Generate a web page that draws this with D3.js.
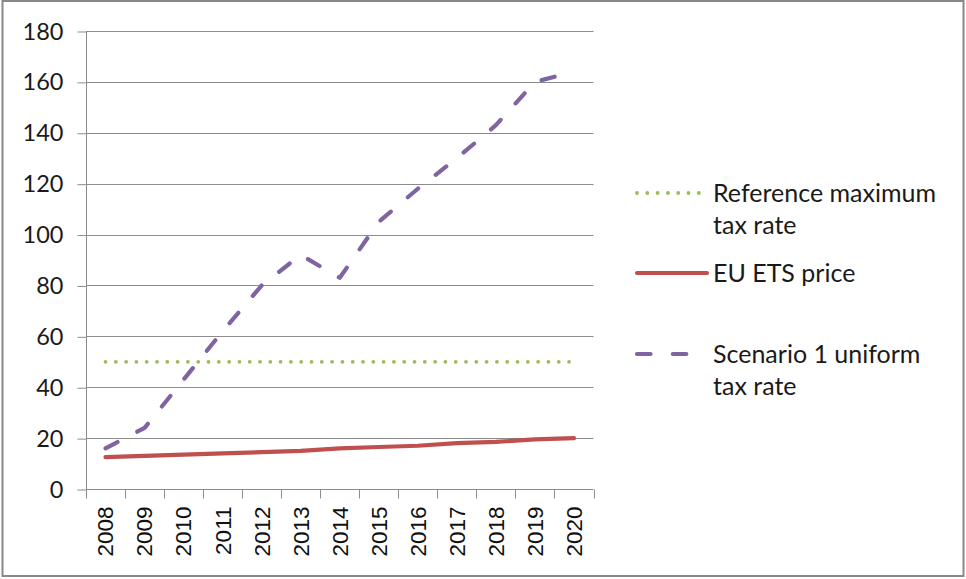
<!DOCTYPE html>
<html><head><meta charset="utf-8">
<script src="https://cdn.jsdelivr.net/npm/d3@7"></script>
<style>body{margin:0;background:#fff;} svg{display:block;}</style>
</head><body>
<svg id="c" width="966" height="579"></svg>
<script>
const years = ["2008","2009","2010","2011","2012","2013","2014","2015","2016","2017","2018","2019","2020"];
const refMax = [50,50,50,50,50,50,50,50,50,50,50,50,50];
const etsPrice = [12.5,13,13.5,14,14.5,15,16,16.5,17,18,18.5,19.5,20];
const scenario1 = [16,24,43,62,80,92,83,105,118,130,143,160,164];
const yTicks = [0,20,40,60,80,100,120,140,160,180];
const legendLabels = [["Reference maximum","tax rate"],["EU ETS price"],["Scenario 1 uniform","tax rate"]];

const svg = d3.select("#c");
svg.append("rect").attr("x",2.5).attr("y",1).attr("width",961).attr("height",575)
  .attr("fill","#fff").attr("stroke","#888").attr("stroke-width",2);

const x = d3.scaleBand().domain(years).range([86,593.5]);
const y = d3.scaleLinear().domain([0,180]).range([489,31]);
const gridColor = "#8c8c8c";

// gridlines
svg.append("g").selectAll("line").data(yTicks.filter(d=>d>0)).join("line")
  .attr("x1",86).attr("x2",593.5).attr("y1",d=>Math.round(y(d))+0.5).attr("y2",d=>Math.round(y(d))+0.5)
  .attr("stroke",gridColor).attr("stroke-width",1);

// y axis
const ya = svg.append("g").attr("transform","translate(86.5,0.5)")
  .call(d3.axisLeft(y).tickValues(yTicks).tickSize(9).tickPadding(14));
ya.select(".domain").attr("stroke",gridColor).attr("d","M0,"+(y(180)-0.5)+"V"+(y(0)-0.5));
ya.selectAll(".tick line").attr("stroke",gridColor);
ya.selectAll("text").attr("font-family","Lato, 'Noto Sans', sans-serif").attr("font-size",23.5).attr("fill","#1a1a1a");

// x axis
const xa = svg.append("g").attr("transform","translate(0,489.5)")
  .call(d3.axisBottom(x).tickSize(0).tickSizeOuter(0));
xa.select(".domain").attr("stroke",gridColor).attr("d","M86,0H593.5");
const tickPos = years.map(d=>x(d)).concat([593.5]);
xa.append("g").selectAll("line").data(tickPos).join("line")
  .attr("x1",d=>Math.round(d)+0.5).attr("x2",d=>Math.round(d)+0.5).attr("y1",0).attr("y2",9)
  .attr("stroke",gridColor);
xa.selectAll(".tick text")
  .attr("font-family","'Liberation Sans', Arial, sans-serif").attr("font-size",22.5).attr("fill","#111")
  .attr("transform","rotate(-90)").attr("text-anchor","end").attr("dy","0.35em")
  .attr("x",-17).attr("y",0);

const cx = d => x(d) + x.bandwidth()/2;
const line = d3.line().x((d,i)=>cx(years[i])).y(d=>y(d));

svg.append("path").datum(refMax).attr("d",line).attr("fill","none")
  .attr("stroke","#9BBB59").attr("stroke-width",3.8).attr("stroke-linecap","round")
  .attr("stroke-dasharray","0,10.3");
svg.append("path").datum(etsPrice).attr("d",line).attr("fill","none")
  .attr("stroke","#C0504D").attr("stroke-width",4.2).attr("stroke-linecap","round").attr("stroke-linejoin","round");
svg.append("path").datum(scenario1).attr("d",line).attr("fill","none")
  .attr("stroke","#8064A2").attr("stroke-width",4.2).attr("stroke-linecap","round").attr("stroke-linejoin","round")
  .attr("stroke-dasharray","13.5,22.3");

// legend
const lg = svg.append("g");
const lgY = [193,273,354];
const styles = [
  {c:"#9BBB59",w:3.8,da:"0,10.3",x2:700},
  {c:"#C0504D",w:4.2,da:null,x2:707},
  {c:"#8064A2",w:4.2,da:"13.5,22.3",x2:690}
];
styles.forEach((s,i)=>{
  const l = lg.append("line").attr("x1",637).attr("x2",s.x2).attr("y1",lgY[i]).attr("y2",lgY[i])
    .attr("stroke",s.c).attr("stroke-width",s.w).attr("stroke-linecap","round");
  if(s.da) l.attr("stroke-dasharray",s.da);
  legendLabels[i].forEach((t,j)=>{
    lg.append("text").attr("x",713).attr("y",lgY[i]+j*32).attr("dy","0.35em")
      .attr("font-family","Lato, 'Noto Sans', sans-serif").attr("font-size",25).attr("fill","#1a1a1a").text(t);
  });
});
</script>
</body></html>
